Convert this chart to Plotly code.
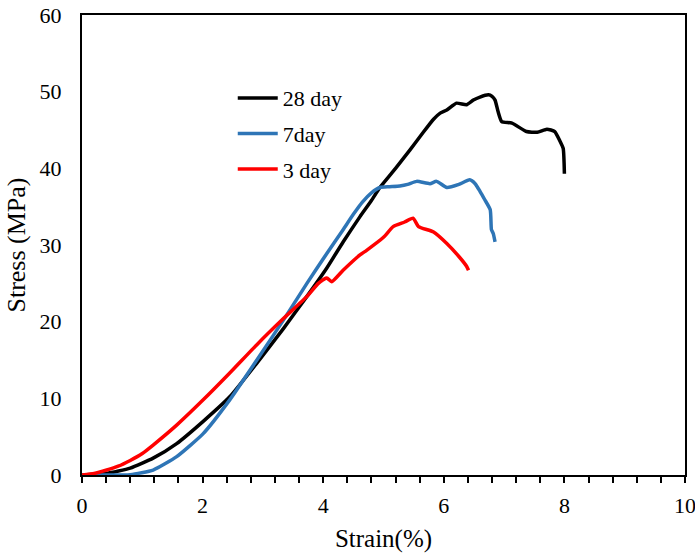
import plotly.graph_objects as go

# 28 day
strain_28 = [0, 0.41, 0.8, 1.18, 1.57, 2.01, 2.45, 2.9, 3.34, 3.73, 4.06, 4.33, 4.61, 4.8, 4.94, 5.2, 5.44,
             5.65, 5.83, 5.94, 6.05, 6.21, 6.38, 6.49, 6.6, 6.74, 6.8, 6.85, 6.9, 6.96, 7.13, 7.37,
             7.55, 7.71, 7.84, 7.93, 7.98, 8.0]
stress_28 = [0, 0.2, 0.9, 2.2, 4.1, 7.0, 10.2, 14.6, 19.1, 23.3, 27.0, 30.4, 33.7, 35.8, 37.5, 40.0, 42.4,
             44.6, 46.4, 47.2, 47.6, 48.5, 48.3, 48.9, 49.3, 49.6, 49.4, 48.9, 47.4, 46.1, 45.9, 44.8,
             44.7, 45.1, 44.8, 43.5, 42.6, 39.3]

# 7 day
strain_7 = [0, 0.41, 0.8, 1.18, 1.57, 2.01, 2.45, 2.9, 3.34, 3.73, 4.06, 4.33, 4.5, 4.65, 4.8, 4.94,
            5.1, 5.27, 5.4, 5.55, 5.77, 5.88, 6.05, 6.25, 6.43, 6.52, 6.6, 6.68, 6.77, 6.79, 6.82, 6.85]
stress_7 = [0, 0, 0.05, 0.65, 2.4, 5.4, 9.8, 15.0, 20.2, 25.0, 28.9, 32.0, 34.0, 35.6, 36.8, 37.5,
            37.6, 37.7, 37.9, 38.3, 38.0, 38.3, 37.5, 37.9, 38.5, 38.0, 37.0, 35.9, 34.6, 32.0, 31.5, 30.4]

# 3 day
strain_3 = [0, 0.2, 0.41, 0.6, 0.8, 1.0, 1.18, 1.57, 2.01, 2.45, 2.9, 3.34, 3.73, 3.92, 4.06, 4.14, 4.33,
            4.61, 4.72, 5.0, 5.16, 5.35, 5.49, 5.58, 5.83, 6.05, 6.25, 6.38, 6.41]
stress_3 = [0, 0.2, 0.65, 1.15, 1.9, 2.8, 3.9, 6.5, 9.8, 13.3, 17.0, 20.4, 23.3, 25.0, 25.7, 25.2, 26.7,
            28.7, 29.3, 31.0, 32.4, 33.0, 33.5, 32.4, 31.7, 30.2, 28.5, 27.2, 26.7]

series = [
    ("28 day", strain_28, stress_28, "#000000"),
    ("7day", strain_7, stress_7, "#2E75B6"),
    ("3 day", strain_3, stress_3, "#FF0000"),
]

FONT = "Liberation Serif, Times New Roman, serif"

fig = go.Figure()
for i, (name, xs, ys, col) in enumerate(series):
    fig.add_trace(go.Scatter(
        x=xs, y=ys, name=name, mode="lines",
        line=dict(color=col, width=3.5, shape="spline", smoothing=0.5),
        legendgroup=f"g{i}",
    ))

fig.update_layout(
    width=695, height=553,
    margin=dict(l=82, r=10, t=15, b=78),
    paper_bgcolor="white", plot_bgcolor="white",
    font=dict(family=FONT, size=22, color="black"),
    showlegend=True,
    legend=dict(x=0.25, y=0.865, xanchor="left", yanchor="top",
                bgcolor="rgba(0,0,0,0)", font=dict(family=FONT, size=22),
                tracegroupgap=4, itemwidth=40),
)
fig.update_xaxes(
    range=[0, 10], dtick=2, tick0=0, showgrid=False, zeroline=False, automargin=False,
    showline=True, linecolor="black", linewidth=2, mirror=True,
    ticks="outside", ticklen=6, tickwidth=1.5, tickcolor="black",
    minor=dict(dtick=0.4, ticks="outside", ticklen=6, tickwidth=1.5, tickcolor="black"),
    ticklabelstandoff=4, ticklabeloverflow="allow",
    title=dict(text="Strain(%)", font=dict(family=FONT, size=25), standoff=12),
    tickfont=dict(family=FONT, size=22),
)
fig.update_yaxes(
    range=[0, 60], dtick=10, showgrid=False, zeroline=False, automargin=False,
    showline=True, linecolor="black", linewidth=2, mirror=True,
    ticks="", ticklabelstandoff=14, ticklabeloverflow="allow",
    title=dict(text="Stress (MPa)", font=dict(family=FONT, size=26), standoff=6),
    tickfont=dict(family=FONT, size=22),
)

fig.write_html("out.html")
